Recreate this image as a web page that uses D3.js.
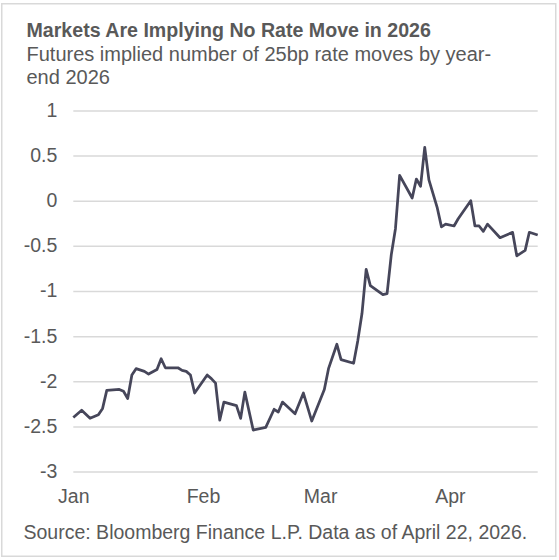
<!DOCTYPE html>
<html lang="en">
<head>
<meta charset="UTF-8">
<title>Markets Are Implying No Rate Move in 2026</title>
<script src="https://d3js.org/d3.v7.min.js"></script>
<style>
  body { margin: 0; background: #fff; }
  text { font-family: "Liberation Sans", Arial, sans-serif; fill: #595959; }
  .grid line { stroke: #d9d9d9; stroke-width: 1.5px; }
  .series { fill: none; stroke: #46465a; stroke-width: 2.75px; stroke-linejoin: round; }
</style>
</head>
<body>
<script>
  const width = 559;
  const height = 560;

  // futures implied number of 25bp moves
  const dates = [
    "2026-01-01", "2026-01-03", "2026-01-05", "2026-01-07", "2026-01-08", "2026-01-09",
    "2026-01-12", "2026-01-13", "2026-01-14", "2026-01-15", "2026-01-16", "2026-01-18",
    "2026-01-19", "2026-01-21", "2026-01-22", "2026-01-23", "2026-01-26", "2026-01-27",
    "2026-01-28", "2026-01-29", "2026-01-30", "2026-02-02", "2026-02-03", "2026-02-04",
    "2026-02-05", "2026-02-06", "2026-02-09", "2026-02-10", "2026-02-11", "2026-02-13",
    "2026-02-16", "2026-02-18", "2026-02-19", "2026-02-20", "2026-02-23", "2026-02-25",
    "2026-02-27", "2026-03-02", "2026-03-03", "2026-03-05", "2026-03-06", "2026-03-09",
    "2026-03-10", "2026-03-11", "2026-03-12", "2026-03-13", "2026-03-16", "2026-03-17",
    "2026-03-18", "2026-03-19", "2026-03-20", "2026-03-23", "2026-03-24", "2026-03-25",
    "2026-03-26", "2026-03-27", "2026-03-29", "2026-03-30", "2026-03-31", "2026-04-02",
    "2026-04-03", "2026-04-06", "2026-04-07", "2026-04-08", "2026-04-09", "2026-04-10",
    "2026-04-13", "2026-04-16", "2026-04-17", "2026-04-19", "2026-04-20", "2026-04-22"
  ];
  const moves = [
    -2.40, -2.32, -2.41, -2.37, -2.30, -2.10,
    -2.09, -2.11, -2.19, -1.93, -1.86, -1.89,
    -1.92, -1.87, -1.75, -1.85, -1.85, -1.88,
    -1.89, -1.93, -2.13, -1.93, -1.97, -2.02,
    -2.43, -2.23, -2.27, -2.41, -2.12, -2.54,
    -2.51, -2.31, -2.34, -2.23, -2.36, -2.13,
    -2.44, -2.09, -1.86, -1.59, -1.76, -1.80,
    -1.55, -1.25, -0.76, -0.94, -1.04, -1.03,
    -0.60, -0.31, 0.28, 0.03, 0.24, 0.16,
    0.59, 0.23, -0.08, -0.29, -0.26, -0.28,
    -0.20, 0.00, -0.28, -0.28, -0.34, -0.26,
    -0.41, -0.35, -0.61, -0.55, -0.35, -0.38
  ];
  const yTicks = [1, 0.5, 0, -0.5, -1, -1.5, -2, -2.5, -3];
  const monthTicks = ["2026-01-01", "2026-02-01", "2026-03-01", "2026-04-01"];

  const title = "Markets Are Implying No Rate Move in 2026";
  const subtitle = ["Futures implied number of 25bp rate moves by year-", "end 2026"];
  const source = "Source: Bloomberg Finance L.P. Data as of April 22, 2026.";

  const parse = d3.timeParse("%Y-%m-%d");
  const points = dates.map((d, i) => ({ date: parse(d), value: moves[i] }));

  const x = d3.scaleTime()
    .domain([parse("2026-01-01"), parse("2026-04-22")])
    .range([73.3, 537.7]);

  const y = d3.scaleLinear()
    .domain([-3, 1])
    .range([471.6, 110.4]);

  const svg = d3.select("body")
    .append("svg")
    .attr("width", width)
    .attr("height", height);

  svg.append("rect")
    .attr("x", 1.75)
    .attr("y", 3.75)
    .attr("width", 554)
    .attr("height", 552.5)
    .attr("fill", "none")
    .attr("stroke", "#d9d9d9")
    .attr("stroke-width", 1.5);

  svg.append("text")
    .attr("x", 26.5)
    .attr("y", 37)
    .style("font-size", "19.6px")
    .style("font-weight", "bold")
    .text(title);

  svg.selectAll(".subtitle")
    .data(subtitle)
    .enter()
    .append("text")
    .attr("class", "subtitle")
    .attr("x", 26.5)
    .attr("y", (d, i) => 61 + i * 22.5)
    .style("font-size", "20px")
    .text(d => d);

  // horizontal gridlines + y labels
  const yAxis = d3.axisLeft(y)
    .tickValues(yTicks)
    .tickSize(-(x.range()[1] - x.range()[0]))
    .tickPadding(16)
    .tickFormat(d => String(d));

  const gy = svg.append("g")
    .attr("class", "grid")
    .attr("transform", `translate(${x.range()[0]},0)`)
    .call(yAxis);
  gy.select(".domain").remove();
  gy.selectAll("text")
    .style("font-size", "19.5px")
    .attr("dy", "0.3em");

  const xAxis = d3.axisBottom(x)
    .tickValues(monthTicks.map(parse))
    .tickSize(0)
    .tickPadding(18)
    .tickFormat(d3.timeFormat("%b"));

  const gx = svg.append("g")
    .attr("transform", `translate(0,${y(-3)})`)
    .call(xAxis);
  gx.select(".domain").remove();
  gx.selectAll("text")
    .style("font-size", "19.5px");

  const line = d3.line()
    .x(d => x(d.date))
    .y(d => y(d.value));

  svg.append("path")
    .datum(points)
    .attr("class", "series")
    .attr("d", line);

  svg.append("text")
    .attr("x", 23.5)
    .attr("y", 539)
    .style("font-size", "19.5px")
    .text(source);
</script>
</body>
</html>
